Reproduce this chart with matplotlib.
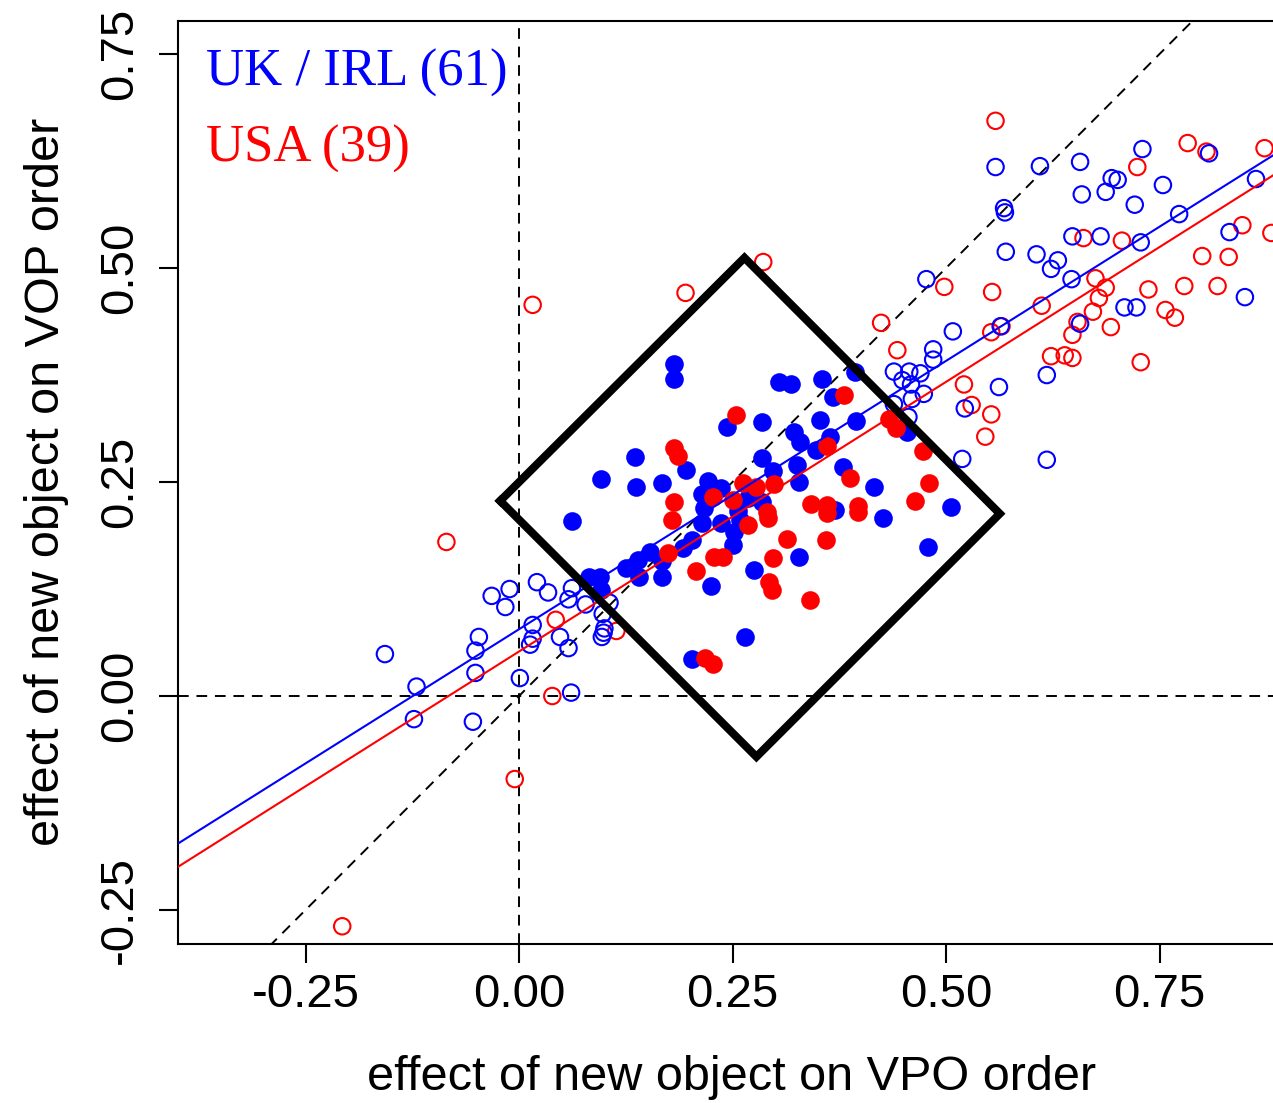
import matplotlib
matplotlib.use("Agg")
import matplotlib.pyplot as plt

# ---------------- data ----------------
uk_open_x = [-0.157, -0.120, -0.123, -0.054, -0.051, -0.051, -0.047, -0.032, -0.011, -0.016,
             0.021, 0.034, 0.016, 0.016, 0.013, 0.001, 0.048, 0.058, 0.062, 0.058,
             0.078, 0.106, 0.098, 0.100, 0.099, 0.097, 0.061,
             0.568, 0.569, 0.570, 0.477, 0.508, 0.485, 0.485, 0.439, 0.457, 0.470,
             0.449, 0.459, 0.474, 0.460, 0.439, 0.456, 0.562, 0.522, 0.519, 0.564,
             0.606, 0.631, 0.623, 0.647, 0.648, 0.681, 0.728, 0.773, 0.721, 0.659,
             0.687, 0.694, 0.701, 0.754, 0.832, 0.850, 0.709, 0.723, 0.657, 0.618,
             0.618, 0.558, 0.610, 0.657, 0.730, 0.808, 0.863]
uk_open_y = [0.049, 0.011, -0.027, -0.030, 0.027, 0.053, 0.069, 0.117, 0.125, 0.104,
             0.133, 0.121, 0.083, 0.067, 0.060, 0.021, 0.069, 0.056, 0.126, 0.113,
             0.107, 0.109, 0.096, 0.079, 0.074, 0.069, 0.004,
             0.570, 0.565, 0.519, 0.487, 0.426, 0.405, 0.393, 0.379, 0.379, 0.377,
             0.369, 0.364, 0.353, 0.347, 0.341, 0.326, 0.361, 0.336, 0.277, 0.432,
             0.516, 0.509, 0.499, 0.487, 0.537, 0.537, 0.530, 0.563, 0.574, 0.586,
             0.589, 0.605, 0.603, 0.597, 0.542, 0.466, 0.454, 0.454, 0.435, 0.375,
             0.276, 0.618, 0.619, 0.624, 0.639, 0.634, 0.604]

usa_open_x = [-0.085, -0.005, 0.039, 0.043, 0.114, -0.207, 0.016, 0.195, 0.286, 0.424,
              0.443, 0.498, 0.554, 0.553, 0.565, 0.612, 0.661, 0.706, 0.675, 0.687,
              0.679, 0.672, 0.654, 0.648, 0.623, 0.639, 0.648, 0.693, 0.728, 0.737,
              0.779, 0.818, 0.800, 0.831, 0.847, 0.881, 0.757, 0.768, 0.521, 0.530,
              0.553, 0.546, 0.558, 0.783, 0.805, 0.724, 0.873]
usa_open_y = [0.180, -0.097, 0.000, 0.089, 0.076, -0.269, 0.457, 0.471, 0.507, 0.436,
              0.404, 0.478, 0.472, 0.425, 0.432, 0.456, 0.535, 0.532, 0.488, 0.477,
              0.465, 0.449, 0.437, 0.422, 0.397, 0.398, 0.395, 0.431, 0.390, 0.475,
              0.479, 0.479, 0.514, 0.513, 0.550, 0.541, 0.451, 0.442, 0.364, 0.340,
              0.329, 0.303, 0.672, 0.646, 0.636, 0.618, 0.640]

uk_fill_x = [0.182, 0.181, 0.305, 0.318, 0.355, 0.393, 0.368, 0.243, 0.284, 0.353,
             0.395, 0.322, 0.329, 0.364, 0.348, 0.454, 0.284, 0.297, 0.326, 0.379,
             0.328, 0.416, 0.136, 0.096, 0.137, 0.168, 0.196, 0.221, 0.237, 0.214,
             0.217, 0.268, 0.285, 0.257, 0.259, 0.214, 0.237, 0.252, 0.250, 0.203,
             0.192, 0.168, 0.153, 0.139, 0.125, 0.141, 0.167, 0.095, 0.082, 0.096,
             0.275, 0.225, 0.328, 0.370, 0.426, 0.506, 0.479, 0.265, 0.203, 0.062]
uk_fill_y = [0.388, 0.370, 0.367, 0.364, 0.370, 0.379, 0.349, 0.314, 0.320, 0.322,
             0.321, 0.308, 0.297, 0.303, 0.287, 0.308, 0.278, 0.263, 0.270, 0.268,
             0.250, 0.244, 0.279, 0.254, 0.244, 0.249, 0.264, 0.251, 0.243, 0.236,
             0.220, 0.231, 0.227, 0.216, 0.206, 0.202, 0.202, 0.192, 0.176, 0.182,
             0.173, 0.158, 0.168, 0.159, 0.150, 0.139, 0.139, 0.139, 0.139, 0.124,
             0.147, 0.129, 0.162, 0.217, 0.208, 0.221, 0.174, 0.069, 0.043, 0.204]

usa_fill_x = [0.254, 0.182, 0.186, 0.182, 0.179, 0.262, 0.277, 0.299, 0.227, 0.250,
              0.290, 0.291, 0.268, 0.314, 0.297, 0.228, 0.239, 0.207, 0.174, 0.293,
              0.296, 0.341, 0.218, 0.227, 0.381, 0.361, 0.433, 0.442, 0.473, 0.387,
              0.480, 0.464, 0.342, 0.361, 0.361, 0.397, 0.397, 0.359]
usa_fill_y = [0.328, 0.290, 0.280, 0.227, 0.206, 0.249, 0.244, 0.248, 0.232, 0.229,
              0.215, 0.208, 0.200, 0.183, 0.161, 0.162, 0.162, 0.146, 0.167, 0.133,
              0.124, 0.112, 0.044, 0.037, 0.352, 0.292, 0.324, 0.313, 0.286, 0.255,
              0.249, 0.228, 0.224, 0.223, 0.214, 0.222, 0.215, 0.182]

# regression fits (intercept, slope)
uk_fit = (0.078, 0.627)
usa_fit = (0.052, 0.630)

# diamond vertices
diamond_x = [-0.022, 0.264, 0.563, 0.278, -0.022]
diamond_y = [0.228, 0.512, 0.213, -0.071, 0.228]

ticks = [-0.25, 0.00, 0.25, 0.50, 0.75]
tick_labels = ["-0.25", "0.00", "0.25", "0.50", "0.75"]
legend_labels = ["UK / IRL (61)", "USA (39)"]
xlabel = "effect of new object on VPO order"
ylabel = "effect of new object on VOP order"

BLUE = "#0000ff"
RED = "#ff0000"

# ---------------- figure ----------------
W, H = 1273, 1103
fig = plt.figure(figsize=(W / 100, H / 100), dpi=100)
ax = fig.add_axes([178 / W, 1 - 944 / H, (1273 - 178) / W, (944 - 21) / H])
xmin, xmax = -0.3993, 0.8829
ymin, ymax = -0.2897, 0.7886
ax.set_xlim(xmin, xmax)
ax.set_ylim(ymin, ymax)

dash = (5.5, 4)
lw_ref = 1.4
ax.axhline(0, color="black", lw=lw_ref, ls=(0, dash), zorder=1)
ax.axvline(0, color="black", lw=lw_ref, ls=(0, dash), zorder=1)
ax.plot([xmin, xmax], [xmin, xmax], color="black", lw=lw_ref, ls=(0, dash), zorder=1)

s_open = 140
s_fill = 180
ax.scatter(usa_open_x, usa_open_y, s=s_open, facecolors="none", edgecolors=RED, linewidths=1.5, zorder=2)
ax.scatter(uk_open_x, uk_open_y, s=s_open, facecolors="none", edgecolors=BLUE, linewidths=1.5, zorder=2)
ax.scatter(uk_fill_x, uk_fill_y, s=s_fill, color=BLUE, linewidths=0, zorder=3)
ax.scatter(usa_fill_x, usa_fill_y, s=s_fill, color=RED, linewidths=0, zorder=3)

xs = [xmin, xmax]
ax.plot(xs, [uk_fit[0] + uk_fit[1] * x for x in xs], color=BLUE, lw=1.5, zorder=4)
ax.plot(xs, [usa_fit[0] + usa_fit[1] * x for x in xs], color=RED, lw=1.5, zorder=4)

ax.plot(diamond_x, diamond_y, color="black", lw=5.8, solid_joinstyle="miter", zorder=5)

# spines / ticks
for sp in ["left", "bottom", "top"]:
    ax.spines[sp].set_linewidth(1.5)
ax.spines["right"].set_visible(False)
ax.set_xticks(ticks)
ax.set_xticklabels(tick_labels)
ax.set_yticks(ticks)
ax.set_yticklabels(tick_labels, rotation=90, va="center")
ax.tick_params(axis="both", direction="out", length=13.7, width=1.5, labelsize=34)
ax.tick_params(axis="x", pad=7)
ax.tick_params(axis="y", pad=12)
for lab in ax.get_xticklabels() + ax.get_yticklabels():
    lab.set_family("Liberation Sans")

# legend text
ax.text(-0.367, 0.713, legend_labels[0], color=BLUE, fontsize=38,
        family="Liberation Serif", va="baseline", ha="left", zorder=6)
ax.text(-0.367, 0.624, legend_labels[1], color=RED, fontsize=38,
        family="Liberation Serif", va="baseline", ha="left", zorder=6)

fig.text(732 / W, 1 - 1077 / H, xlabel, ha="center", va="center",
         fontsize=35, family="Liberation Sans")
fig.text(47 / W, 1 - 482 / H, ylabel, ha="center", va="center", rotation=90,
         fontsize=35, family="Liberation Sans")

fig.savefig("out.png", dpi=100)
